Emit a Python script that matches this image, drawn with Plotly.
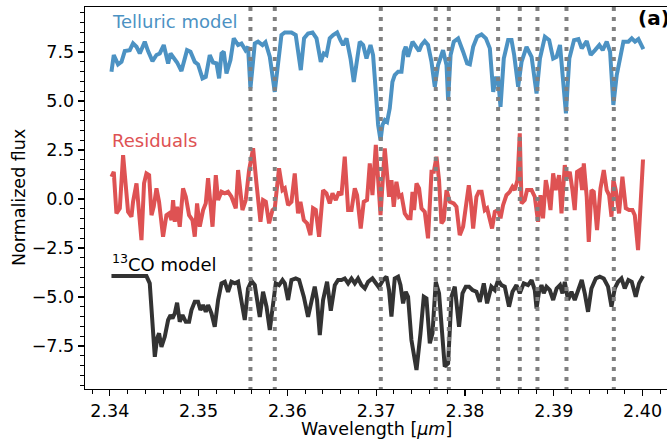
import plotly.graph_objects as go

# ---------------- data ----------------
tell_wl = [2.34019, 2.34045, 2.34093, 2.34132, 2.34169, 2.34225, 2.34262, 2.34301, 2.34338, 2.34394,
           2.34431, 2.34481, 2.34526, 2.34563, 2.34608, 2.34657, 2.34684, 2.34713, 2.34758, 2.34807,
           2.34870, 2.34909, 2.34957, 2.34994, 2.35044, 2.35081, 2.35126, 2.35163, 2.35202, 2.35231,
           2.35258, 2.35284, 2.35314, 2.35359, 2.35396, 2.35445, 2.35483, 2.35528, 2.35557, 2.35584,
           2.35607, 2.35633, 2.35670, 2.35720, 2.35753, 2.35802, 2.35858, 2.35895, 2.35933, 2.35971,
           2.36046, 2.36094, 2.36151, 2.36188, 2.36233, 2.36283, 2.36328, 2.36376, 2.36410, 2.36440,
           2.36477, 2.36515, 2.36560, 2.36598, 2.36628, 2.36666, 2.36711, 2.36748, 2.36779, 2.36815,
           2.36853, 2.36891, 2.36936, 2.36965, 2.36996, 2.37022, 2.37049, 2.37071, 2.37097, 2.37123,
           2.37153, 2.37183, 2.37209, 2.37247, 2.37285, 2.37311, 2.37333, 2.37359, 2.37409, 2.37446,
           2.37483, 2.37510, 2.37547, 2.37584, 2.37623, 2.37660, 2.37697, 2.37753, 2.37792, 2.37810,
           2.37838, 2.37874, 2.37923, 2.37979, 2.38024, 2.38055, 2.38092, 2.38137, 2.38187, 2.38235,
           2.38280, 2.38318, 2.38348, 2.38373, 2.38400, 2.38437, 2.38486, 2.38524, 2.38554, 2.38599,
           2.38637, 2.38693, 2.38750, 2.38806, 2.38844, 2.38900, 2.38948, 2.38993, 2.39032, 2.39070,
           2.39107, 2.39137, 2.39175, 2.39228, 2.39277, 2.39315, 2.39371, 2.39416, 2.39465, 2.39513,
           2.39551, 2.39596, 2.39634, 2.39671, 2.39709, 2.39754, 2.39784, 2.39840, 2.39878, 2.39915,
           2.39953, 2.40009]
tell_flux = [6.50, 7.35, 6.87, 7.00, 7.55, 7.60, 7.94, 7.77, 7.43, 8.03,
             7.55, 7.04, 7.35, 7.43, 7.86, 6.92, 7.43, 7.26, 6.97, 6.53,
             7.60, 7.52, 7.00, 6.87, 6.16, 6.24, 7.35, 6.97, 6.92, 6.16,
             7.43, 7.52, 6.41, 7.09, 8.20, 7.86, 7.94, 7.60, 7.77, 5.65,
             6.67, 7.94, 8.03, 7.86, 8.00, 7.26, 5.47, 7.00, 8.37, 8.50,
             8.50, 8.37, 6.58, 8.20, 8.45, 8.50, 8.20, 7.00, 7.43, 7.35,
             8.20, 8.37, 8.50, 8.11, 7.86, 8.20, 7.17, 5.98, 7.00, 8.03,
             7.86, 7.17, 7.86, 7.35, 5.47, 3.78, 3.00, 3.78, 4.03, 3.94,
             4.63, 5.98, 6.33, 6.50, 6.50, 7.52, 7.77, 7.26, 8.03, 7.77,
             7.55, 7.86, 8.06, 7.86, 7.00, 5.73, 6.84, 7.60, 6.84, 5.05,
             7.35, 8.03, 8.20, 7.52, 6.92, 6.87, 7.77, 8.28, 8.40, 8.20,
             7.69, 5.47, 6.16, 6.16, 4.71, 7.17, 8.11, 8.11, 7.35, 5.73,
             7.00, 7.77, 7.26, 5.39, 7.17, 8.28, 8.11, 7.17, 7.26, 7.86,
             6.16, 4.37, 7.17, 8.11, 8.16, 7.69, 8.06, 7.35, 7.60, 7.86,
             7.60, 8.03, 7.52, 4.80, 6.33, 7.52, 8.03, 8.03, 8.20, 8.03,
             8.16, 7.65]

res_wl = [2.34019, 2.34045, 2.34075, 2.34113, 2.34150, 2.34180, 2.34206, 2.34244, 2.34262, 2.34301,
          2.34330, 2.34357, 2.34386, 2.34413, 2.34443, 2.34470, 2.34495, 2.34526, 2.34555, 2.34600,
          2.34638, 2.34668, 2.34695, 2.34713, 2.34732, 2.34758, 2.34788, 2.34825, 2.34856, 2.34893,
          2.34931, 2.34957, 2.34983, 2.35013, 2.35051, 2.35081, 2.35107, 2.35134, 2.35157, 2.35194,
          2.35220, 2.35258, 2.35295, 2.35332, 2.35370, 2.35419, 2.35445, 2.35494, 2.35531, 2.35569,
          2.35614, 2.35652, 2.35697, 2.35726, 2.35757, 2.35794, 2.35832, 2.35858, 2.35906, 2.35945,
          2.35971, 2.36008, 2.36046, 2.36083, 2.36120, 2.36147, 2.36185, 2.36222, 2.36260, 2.36289,
          2.36320, 2.36357, 2.36402, 2.36440, 2.36477, 2.36508, 2.36545, 2.36582, 2.36609, 2.36646,
          2.36684, 2.36722, 2.36759, 2.36785, 2.36826, 2.36860, 2.36897, 2.36928, 2.36958, 2.36996,
          2.37049, 2.37097, 2.37145, 2.37172, 2.37198, 2.37228, 2.37258, 2.37285, 2.37322, 2.37359,
          2.37386, 2.37409, 2.37427, 2.37454, 2.37483, 2.37510, 2.37547, 2.37584, 2.37623, 2.37649,
          2.37679, 2.37708, 2.37735, 2.37761, 2.37792, 2.37829, 2.37874, 2.37904, 2.37941, 2.37979,
          2.38009, 2.38043, 2.38065, 2.38092, 2.38129, 2.38155, 2.38187, 2.38223, 2.38249, 2.38280,
          2.38305, 2.38336, 2.38373, 2.38400, 2.38429, 2.38467, 2.38504, 2.38535, 2.38561, 2.38591,
          2.38617, 2.38637, 2.38673, 2.38699, 2.38750, 2.38786, 2.38823, 2.38850, 2.38879, 2.38910,
          2.38936, 2.38963, 2.38993, 2.39022, 2.39060, 2.39087, 2.39124, 2.39150, 2.39180, 2.39210,
          2.39236, 2.39262, 2.39293, 2.39319, 2.39338, 2.39371, 2.39394, 2.39424, 2.39450, 2.39487,
          2.39526, 2.39563, 2.39596, 2.39623, 2.39650, 2.39671, 2.39698, 2.39735, 2.39773, 2.39811,
          2.39848, 2.39886, 2.39912, 2.39949, 2.40005]
res_flux = [1.14, 1.39, -0.73, -0.47, 2.24, 0.71, -0.65, -0.90, -0.14, 0.80,
            -0.65, -2.09, 0.80, 1.31, 1.22, -0.82, -0.39, 0.55, -0.14, -1.92,
            -0.82, -0.73, -1.07, -0.05, -1.16, -0.39, -1.41, 0.55, 0.12, -0.82,
            -1.07, -1.92, -0.22, -1.41, -0.56, -0.22, 1.06, -0.22, -1.41, 1.22,
            -0.05, 0.37, 0.29, 0.37, 0.12, -0.47, 1.48, -0.56, -0.05, 1.48,
            2.59, 0.80, -1.16, -0.05, -0.14, -1.24, -0.56, -0.47, 1.57, 0.46,
            0.55, -0.31, -0.14, 1.31, -0.73, -0.14, -1.07, -1.24, -1.84, -0.47,
            -0.56, -1.92, 0.46, 0.29, -0.22, 0.29, -0.05, 0.37, 0.20, 2.16,
            -0.56, -0.56, 0.55, 0.20, -1.50, -0.14, -0.05, 1.82, 0.20, 2.76,
            -0.82, 2.59, 0.12, 0.97, -0.39, 0.88, 0.12, 0.20, -0.73, -0.98,
            -0.98, 0.37, -0.56, 0.80, 0.55, -0.47, -0.65, -2.00, 1.39, 1.39,
            2.16, 0.97, -1.24, -1.07, 0.46, -0.14, -0.22, -0.39, -1.84, -1.41,
            -0.22, 0.71, -0.05, -1.50, 0.12, 0.37, 0.37, -0.56, -0.47, -0.98,
            -1.50, -0.65, -0.56, -0.98, -0.31, 0.20, 0.37, 0.63, 0.46, 0.97,
            3.35, -0.22, -0.05, 0.46, 0.46, 0.12, -1.16, 0.20, -0.98, 0.97,
            0.37, -0.56, 1.31, 0.46, 1.22, -0.73, 1.73, 1.06, 1.39, 0.46,
            -0.56, 1.39, 1.48, 0.46, 1.82, 0.12, -2.18, 0.46, 0.37, -1.58,
            0.55, 1.48, 0.46, 0.20, -0.90, 0.97, 0.46, -0.73, 1.14, -0.47,
            -0.56, -0.56, -0.82, -2.60, 2.02]

co_wl = [2.34019, 2.34413, 2.34450, 2.34481, 2.34507, 2.34533, 2.34555, 2.34582, 2.34619, 2.34657,
         2.34684, 2.34706, 2.34732, 2.34758, 2.34788, 2.34819, 2.34856, 2.34893, 2.34920, 2.34957,
         2.34994, 2.35021, 2.35051, 2.35081, 2.35107, 2.35145, 2.35182, 2.35220, 2.35258, 2.35295,
         2.35332, 2.35370, 2.35408, 2.35445, 2.35483, 2.35520, 2.35557, 2.35596, 2.35633, 2.35659,
         2.35689, 2.35726, 2.35765, 2.35802, 2.35832, 2.35869, 2.35906, 2.35945, 2.35971, 2.36008,
         2.36046, 2.36094, 2.36132, 2.36185, 2.36233, 2.36271, 2.36308, 2.36334, 2.36365, 2.36402,
         2.36447, 2.36489, 2.36534, 2.36571, 2.36609, 2.36646, 2.36684, 2.36722, 2.36759, 2.36796,
         2.36834, 2.36872, 2.36909, 2.36958, 2.37003, 2.37030, 2.37078, 2.37116, 2.37145, 2.37172,
         2.37209, 2.37247, 2.37274, 2.37303, 2.37333, 2.37359, 2.37397, 2.37454, 2.37499, 2.37536,
         2.37566, 2.37604, 2.37634, 2.37671, 2.37708, 2.37746, 2.37772, 2.37810, 2.37848, 2.37885,
         2.37933, 2.37972, 2.38009, 2.38046, 2.38084, 2.38129, 2.38167, 2.38212, 2.38249, 2.38297,
         2.38336, 2.38373, 2.38411, 2.38448, 2.38496, 2.38535, 2.38580, 2.38617, 2.38662, 2.38710,
         2.38750, 2.38786, 2.38806, 2.38834, 2.38862, 2.38887, 2.38918, 2.38955, 2.38993, 2.39032,
         2.39070, 2.39098, 2.39124, 2.39161, 2.39199, 2.39236, 2.39277, 2.39315, 2.39349, 2.39386,
         2.39424, 2.39473, 2.39518, 2.39563, 2.39611, 2.39650, 2.39687, 2.39724, 2.39762, 2.39799,
         2.39840, 2.39878, 2.39923, 2.39960, 2.40005]
co_flux = [-3.93, -3.93, -4.30, -6.51, -8.05, -7.11, -6.85, -7.54, -7.03, -6.17,
           -5.92, -6.09, -5.83, -5.29, -6.26, -5.92, -6.26, -6.26, -5.66, -5.24,
           -5.24, -5.66, -5.41, -5.75, -5.41, -5.83, -6.51, -5.15, -4.30, -4.22,
           -4.73, -4.22, -4.30, -4.22, -5.15, -6.17, -4.56, -4.17, -4.39, -5.15,
           -6.01, -4.73, -5.49, -6.68, -5.66, -4.30, -4.39, -4.13, -4.30, -5.15,
           -4.13, -4.05, -4.13, -4.98, -6.01, -5.15, -4.47, -5.15, -6.94, -5.15,
           -4.22, -5.70, -4.39, -4.13, -4.13, -4.05, -4.30, -4.05, -4.30, -4.05,
           -4.39, -4.56, -4.22, -4.05, -4.30, -4.50, -4.13, -3.96, -4.64, -6.00,
           -4.05, -3.96, -4.39, -5.32, -4.73, -4.98, -7.19, -8.72, -6.85, -4.98,
           -5.07, -7.36, -6.85, -4.22, -4.81, -6.85, -8.55, -8.38, -4.98, -4.47,
           -6.51, -4.81, -4.47, -4.47, -4.64, -4.73, -5.24, -4.30, -5.32, -4.47,
           -4.64, -4.13, -4.39, -4.47, -5.49, -4.73, -4.39, -4.81, -4.30, -4.39,
           -4.13, -4.64, -5.58, -4.73, -4.39, -4.81, -4.47, -4.64, -5.15, -4.56,
           -4.39, -4.81, -4.22, -5.15, -4.73, -5.15, -4.64, -4.13, -4.81, -5.75,
           -4.56, -4.05, -3.96, -4.05, -4.47, -5.49, -4.56, -4.22, -4.05, -4.56,
           -4.13, -4.22, -4.98, -4.30, -3.93]

line_positions = [2.35584, 2.35858, 2.37052, 2.37671, 2.37818, 2.38373, 2.38617,
                  2.38816, 2.39143, 2.39676]

x_ticks = [2.34, 2.35, 2.36, 2.37, 2.38, 2.39, 2.40]
x_tick_labels = ["2.34", "2.35", "2.36", "2.37", "2.38", "2.39", "2.40"]
y_ticks = [-7.5, -5.0, -2.5, 0.0, 2.5, 5.0, 7.5]
y_tick_labels = ["\u22127.5", "\u22125.0", "\u22122.5", "0.0", "2.5", "5.0", "7.5"]

series_labels = ["Telluric model", "Residuals", "<sup>13</sup>CO model"]
label_y = [9.05, 3.0, -3.25]

# ---------------- styling ----------------
BLUE = "#4c92c3"
RED = "#de5253"
DARK = "#333333"
FONT = "DejaVu Sans"

fig = go.Figure()
for wl, fl, col in [(tell_wl, tell_flux, BLUE), (res_wl, res_flux, RED), (co_wl, co_flux, DARK)]:
    fig.add_trace(go.Scatter(x=wl, y=fl, mode="lines",
                             line=dict(color=col, width=4), hoverinfo="skip"))

for xv in line_positions:
    fig.add_shape(type="line", xref="x", yref="paper", x0=xv, x1=xv, y0=1, y1=0,
                  line=dict(color="#808080", width=4, dash="4px,6px"), layer="above")

for txt, yv, col in zip(series_labels, label_y, [BLUE, RED, "black"]):
    fig.add_annotation(x=2.34, y=yv, xref="x", yref="y", text=txt, showarrow=False,
                       xanchor="left", yanchor="middle",
                       font=dict(family=FONT, size=18, color=col))

fig.add_annotation(x=1, y=1, xref="paper", yref="paper", text="<b>(a)</b>", showarrow=False,
                   xanchor="left", yanchor="middle", xshift=-31, yshift=-11,
                   font=dict(family=FONT, size=20, color="black"))

fig.add_annotation(x=0.5, y=0, xref="paper", yref="paper", text="Wavelength [<i>\u03bcm</i>]",
                   showarrow=False, xanchor="center", yanchor="middle", yshift=-40,
                   font=dict(family=FONT, size=17.5, color="black"))
fig.add_annotation(x=0, y=0.5, xref="paper", yref="paper", text="Normalized flux",
                   showarrow=False, xanchor="center", yanchor="middle", xshift=-66,
                   textangle=-90, font=dict(family=FONT, size=17.5, color="black"))

fig.update_xaxes(range=[2.33721, 2.40275], showgrid=False, zeroline=False, automargin=False,
                 showline=True, linecolor="black", linewidth=1.3, mirror=True,
                 ticks="outside", ticklen=6, tickwidth=1.3, tickcolor="black",
                 tickvals=x_ticks, ticktext=x_tick_labels,
                 tickfont=dict(family=FONT, size=17.5, color="black"),
                 minor=dict(tick0=2.34, dtick=0.002, ticks="outside", ticklen=3.5,
                            tickwidth=1, tickcolor="black", showgrid=False))
fig.update_yaxes(range=[-9.69, 9.80], showgrid=False, zeroline=False, automargin=False,
                 showline=True, linecolor="black", linewidth=1.3,
                 ticks="outside", ticklen=6, tickwidth=1.3, tickcolor="black",
                 tickvals=y_ticks, ticktext=y_tick_labels,
                 tickfont=dict(family=FONT, size=17.5, color="black"),
                 minor=dict(tick0=0, dtick=0.5, ticks="outside", ticklen=3.5,
                            tickwidth=1, tickcolor="black", showgrid=False))

fig.update_layout(width=667, height=446, margin=dict(l=85, r=0, t=7, b=57),
                  plot_bgcolor="white", paper_bgcolor="white", showlegend=False,
                  font=dict(family=FONT))

fig.write_html("out.html", config={"displayModeBar": False, "staticPlot": True},
               post_script="document.body.style.margin='0';document.body.style.overflow='hidden';")
